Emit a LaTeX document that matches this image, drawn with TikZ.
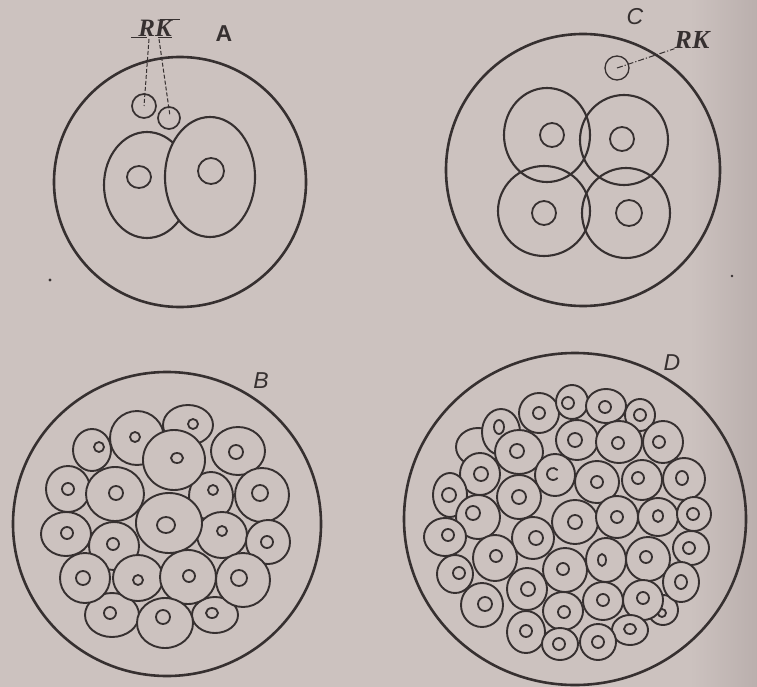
\documentclass[tikz,border=0pt]{standalone}
\usepackage{fontspec}
\setmainfont{Liberation Serif}
\newfontfamily\lblsans{Liberation Sans}
\usetikzlibrary{calc}

\definecolor{paper}{HTML}{CCC2BF}
\definecolor{paperdark}{HTML}{BAAFAD}
\definecolor{ink}{HTML}{363030}

\tikzset{
  envelope/.style={draw=ink, line width=2.6pt},
  blast/.style={draw=ink, line width=1.9pt, fill=paper},
  bigcell/.style={draw=ink, line width=2.1pt},
  nucl/.style={draw=ink, line width=1.8pt},
  polar/.style={draw=ink, line width=1.7pt},
  leader/.style={draw=ink, line width=1pt, dash pattern=on 4pt off 2pt},
  leaderdot/.style={draw=ink, line width=1pt, dash pattern=on 6pt off 2pt on 1.2pt off 2pt},
  panellabel/.style={font=\lblsans\itshape\fontsize{23}{23}\selectfont, text=ink, inner sep=0pt},
  rklabel/.style={font=\bfseries\itshape\fontsize{25}{25}\selectfont, text=ink, inner sep=0pt},
}

% one cleavage cell: centre, radii, nucleus centre, nucleus radii
\newcommand\blastomere[8]{%
  \draw[blast] (#1,#2) ellipse [x radius=#3, y radius=#4];
  \draw[nucl] (#5,#6) ellipse [x radius=#7, y radius=#8];
}

\begin{document}
\begin{tikzpicture}[x=1pt, y=-1pt]
\useasboundingbox (0,0) rectangle (757,687);
\fill[paper] (0,0) rectangle (757,687);
\shade[left color=paper, right color=paperdark] (690,0) rectangle (757,687);

% ---------------- A: two-cell stage ----------------
\draw[envelope] (180,182) ellipse [x radius=126, y radius=125];
\draw[bigcell, fill=paper] (147,185) ellipse [x radius=43, y radius=53];
\draw[bigcell, fill=paper] (210,177) ellipse [x radius=45, y radius=60];
\draw[nucl] (139,177) ellipse [x radius=12, y radius=11];
\draw[nucl] (211,171) circle [radius=13];
\draw[polar] (144,106) circle [radius=12];
\draw[polar] (169,118) circle [radius=11];
\coordinate (pbA1) at (144,106);
\coordinate (pbA2) at (170,116);
\node[rklabel] (rkA) at (155,28) {RK};
\coordinate (rkAr) at (149,39);
\coordinate (rkAk) at (159,39);
\draw[ink, line width=1.1pt] (131,37.5) -- (147,37.5);
\draw[ink, line width=1.1pt] (158,37.5) -- (172,37.5);
\draw[ink, line width=1.1pt] (160,19.5) -- (180,19.5);
\draw[leader] (rkAr) -- (pbA1);
\draw[leader] (rkAk) -- (pbA2);
\node[font=\lblsans\bfseries\fontsize{23}{23}\selectfont, text=ink, inner sep=0pt] (labA) at (224,34) {A};
\fill[ink] (50,280) circle [radius=1.6];

% ---------------- C: four-cell stage ----------------
\draw[envelope] (583,170) ellipse [x radius=137, y radius=136];
\draw[bigcell] (547,135) ellipse [x radius=43, y radius=47];
\draw[bigcell] (624,140) ellipse [x radius=44, y radius=45];
\draw[bigcell] (544,211) ellipse [x radius=46, y radius=45];
\draw[bigcell] (626,213) ellipse [x radius=44, y radius=45];
\draw[nucl] (552,135) circle [radius=12];
\draw[nucl] (622,139) circle [radius=12];
\draw[nucl] (544,213) circle [radius=12];
\draw[nucl] (629,213) circle [radius=13];
\draw[polar, line width=1.3pt] (617,68) circle [radius=12];
\coordinate (pbC) at (617,68);
\node[rklabel, font=\bfseries\itshape\fontsize{26}{26}\selectfont] (rkC) at (692,40) {RK};
\draw[leaderdot] (pbC) -- (rkC.south west);
\node[panellabel] (labC) at (635,17) {C};
\fill[ink] (732,276) circle [radius=1.3];

% ---------------- B: morula ----------------
\draw[envelope] (167,524) ellipse [x radius=154, y radius=152];
\blastomere{188}{425}{25}{20}{193}{424}{5}{5}
\blastomere{92}{450}{19}{21}{99}{447}{5}{5}
\blastomere{137}{438}{27}{27}{135}{437}{5}{5}
\blastomere{238}{451}{27}{24}{236}{452}{7}{7}
\blastomere{68}{489}{22}{23}{68}{489}{6}{6}
\blastomere{262}{495}{27}{27}{260}{493}{8}{8}
\blastomere{211}{496}{22}{24}{213}{490}{5}{5}
\blastomere{222}{535}{25}{23}{222}{531}{5}{5}
\blastomere{268}{542}{22}{22}{267}{542}{6}{6}
\blastomere{66}{534}{25}{22}{67}{533}{6}{6}
\blastomere{115}{494}{29}{27}{116}{493}{7}{7}
\blastomere{114}{546}{25}{24}{113}{544}{6}{6}
\blastomere{174}{460}{31}{30}{177}{458}{6}{5}
\blastomere{169}{523}{33}{30}{166}{525}{9}{8}
\blastomere{215}{615}{23}{18}{212}{613}{6}{5}
\blastomere{112}{615}{27}{22}{110}{613}{6}{6}
\blastomere{85}{578}{25}{25}{83}{578}{7}{7}
\blastomere{138}{578}{25}{23}{138}{580}{5}{5}
\blastomere{243}{580}{27}{27}{239}{578}{8}{8}
\blastomere{188}{577}{28}{27}{189}{576}{6}{6}
\blastomere{165}{623}{28}{25}{163}{617}{7}{7}
\node[panellabel] (labB) at (261,381) {B};

% ---------------- D: later morula ----------------
\draw[envelope] (575,519) ellipse [x radius=171, y radius=166];
\draw[blast] (478,447) ellipse [x radius=22, y radius=19];
\blastomere{663}{610}{15}{15}{662}{613}{4}{4}
\blastomere{539}{413}{20}{20}{539}{413}{6}{6}
\blastomere{572}{402}{16}{17}{568}{403}{6}{6}
\blastomere{606}{406}{20}{17}{605}{407}{6}{6}
\blastomere{640}{415}{15}{16}{640}{415}{6}{6}
\blastomere{501}{432}{19}{23}{499}{427}{5}{7}
\blastomere{577}{440}{21}{20}{575}{440}{7}{7}
\blastomere{619}{442}{23}{21}{618}{443}{6}{6}
\blastomere{663}{442}{20}{21}{659}{442}{6}{6}
\blastomere{519}{452}{24}{22}{517}{451}{7}{7}
\blastomere{480}{474}{20}{21}{481}{474}{7}{7}
\draw[blast] (555,475) ellipse [x radius=20, y radius=21];
\draw[nucl] (553,474) ++(40:6) arc [start angle=40, end angle=320, radius=6];
\blastomere{597}{482}{22}{21}{597}{482}{6}{6}
\blastomere{642}{480}{20}{20}{638}{478}{6}{6}
\blastomere{684}{479}{21}{21}{682}{478}{6}{7}
\blastomere{450}{495}{17}{22}{449}{495}{7}{7}
\blastomere{519}{497}{22}{22}{519}{497}{7}{7}
\blastomere{478}{517}{22}{22}{473}{513}{7}{7}
\blastomere{575}{522}{23}{22}{575}{522}{7}{7}
\blastomere{617}{517}{21}{21}{617}{517}{6}{6}
\blastomere{658}{517}{20}{19}{658}{516}{5}{6}
\blastomere{694}{514}{17}{17}{693}{514}{6}{6}
\blastomere{445}{537}{21}{19}{448}{535}{6}{6}
\blastomere{533}{538}{21}{21}{536}{538}{7}{7}
\blastomere{691}{548}{18}{17}{689}{548}{6}{6}
\blastomere{495}{558}{22}{23}{496}{556}{6}{6}
\blastomere{565}{570}{22}{22}{563}{569}{6}{6}
\blastomere{606}{560}{20}{22}{602}{560}{4}{6}
\blastomere{648}{559}{22}{22}{646}{557}{6}{6}
\blastomere{455}{574}{18}{19}{459}{573}{6}{6}
\blastomere{681}{582}{18}{20}{681}{582}{6}{7}
\blastomere{527}{589}{20}{21}{528}{589}{7}{7}
\blastomere{482}{605}{21}{22}{485}{604}{7}{7}
\blastomere{603}{601}{20}{19}{603}{600}{6}{6}
\blastomere{643}{600}{20}{20}{643}{598}{6}{6}
\blastomere{563}{611}{20}{19}{564}{612}{6}{6}
\blastomere{526}{632}{19}{21}{526}{631}{6}{6}
\blastomere{630}{630}{18}{15}{630}{629}{6}{5}
\blastomere{598}{642}{18}{18}{598}{642}{6}{6}
\blastomere{560}{644}{18}{16}{559}{644}{6}{6}
\node[panellabel] (labD) at (672,363) {D};
\end{tikzpicture}
\end{document}
